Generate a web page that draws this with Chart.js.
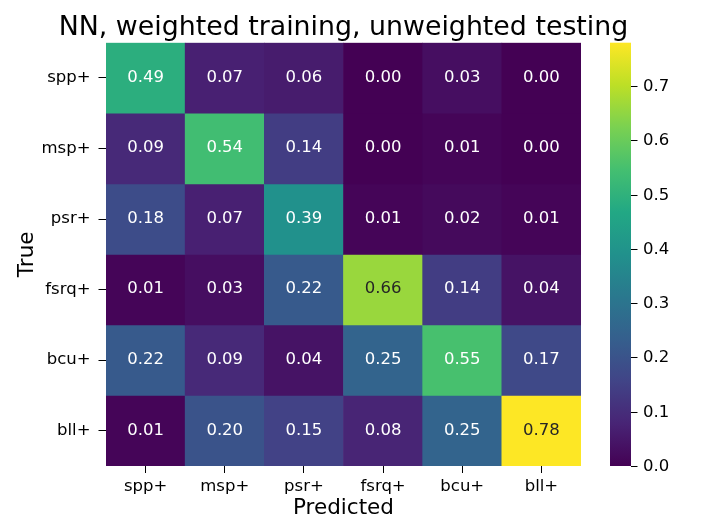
<!DOCTYPE html>
<html>
<head>
<meta charset="utf-8">
<script src="https://cdn.jsdelivr.net/npm/chart.js@4/dist/chart.umd.min.js"></script>
<style>
  body { margin: 0; background: #fff; }
</style>
</head>
<body>
<canvas id="heat" width="706" height="530"></canvas>
<script>
// labels for both axes
var predicted = ["spp+", "msp+", "psr+", "fsrq+", "bcu+", "bll+"];
var trueLabels = ["spp+", "msp+", "psr+", "fsrq+", "bcu+", "bll+"];

// one array per true class (rows, top to bottom)
var sppRow  = [0.49, 0.07, 0.06, 0.00, 0.03, 0.00];
var mspRow  = [0.09, 0.54, 0.14, 0.00, 0.01, 0.00];
var psrRow  = [0.18, 0.07, 0.39, 0.01, 0.02, 0.01];
var fsrqRow = [0.01, 0.03, 0.22, 0.66, 0.14, 0.04];
var bcuRow  = [0.22, 0.09, 0.04, 0.25, 0.55, 0.17];
var bllRow  = [0.01, 0.20, 0.15, 0.08, 0.25, 0.78];
var rows = [sppRow, mspRow, psrRow, fsrqRow, bcuRow, bllRow];

// colorbar
var vmin = 0;
var vmax = 0.78;
var cbTicks = [0.0, 0.1, 0.2, 0.3, 0.4, 0.5, 0.6, 0.7];

var TITLE = "NN, weighted training, unweighted testing";
var FONT = "'DejaVu Sans', sans-serif";

// viridis, 11 samples
var viridis = ["#440154", "#482475", "#414487", "#355f8d", "#2a788e", "#21918c",
               "#22a884", "#44bf70", "#7ad151", "#bddf26", "#fde725"];

function hexRgb(h) {
  return [parseInt(h.substr(1, 2), 16), parseInt(h.substr(3, 2), 16), parseInt(h.substr(5, 2), 16)];
}
function cmap(t) {
  t = Math.max(0, Math.min(1, t));
  var p = t * (viridis.length - 1);
  var i = Math.min(Math.floor(p), viridis.length - 2);
  var f = p - i;
  var a = hexRgb(viridis[i]), b = hexRgb(viridis[i + 1]);
  return [0, 1, 2].map(function (k) { return Math.round(a[k] + (b[k] - a[k]) * f); });
}
function colorOf(v) {
  var c = cmap((v - vmin) / (vmax - vmin));
  return "rgb(" + c[0] + "," + c[1] + "," + c[2] + ")";
}
// same rule seaborn uses to pick annotation color
function textColor(v) {
  var c = cmap((v - vmin) / (vmax - vmin)).map(function (x) {
    x = x / 255;
    return x <= 0.03928 ? x / 12.92 : Math.pow((x + 0.055) / 1.055, 2.4);
  });
  var lum = 0.2126 * c[0] + 0.7152 * c[1] + 0.0722 * c[2];
  return lum > 0.408 ? "#262626" : "#ffffff";
}

var datasets = rows.map(function (row, i) {
  return {
    label: trueLabels[i],
    data: predicted.map(function (p, j) { return { x: p, y: 1, v: row[j] }; }),
    backgroundColor: function (ctx) { return colorOf(ctx.raw.v); },
    borderWidth: 0,
    barPercentage: 1,
    categoryPercentage: 1
  };
});

// title + cell annotations
var cellText = {
  id: "cellText",
  afterDatasetsDraw: function (chart) {
    var ctx = chart.ctx;
    var a = chart.chartArea;
    ctx.save();
    ctx.fillStyle = "#000";
    ctx.font = "26.8px " + FONT;
    ctx.textAlign = "center";
    ctx.textBaseline = "alphabetic";
    ctx.fillText(TITLE, (a.left + a.right) / 2, 35);

    ctx.font = "16.5px " + FONT;
    ctx.textBaseline = "middle";
    chart.data.datasets.forEach(function (ds, i) {
      chart.getDatasetMeta(i).data.forEach(function (bar, j) {
        var v = ds.data[j].v;
        ctx.fillStyle = textColor(v);
        ctx.fillText(v.toFixed(2), bar.x, (bar.y + bar.base) / 2 - 0.5);
      });
    });
    ctx.restore();
  }
};

// colorbar drawn against the 'cb' scale
var colorbar = {
  id: "colorbar",
  afterDraw: function (chart) {
    var s = chart.scales.cb;
    var ctx = chart.ctx;
    var top = s.getPixelForValue(vmax), bot = s.getPixelForValue(vmin);
    var x0 = 610, x1 = 631;
    var g = ctx.createLinearGradient(0, bot, 0, top);
    viridis.forEach(function (c, k) { g.addColorStop(k / (viridis.length - 1), c); });
    ctx.save();
    ctx.fillStyle = g;
    ctx.fillRect(x0, top, x1 - x0, bot - top);
    ctx.strokeStyle = "#000";
    ctx.fillStyle = "#000";
    ctx.lineWidth = 1;
    ctx.font = "16.5px " + FONT;
    ctx.textAlign = "left";
    ctx.textBaseline = "middle";
    cbTicks.forEach(function (t) {
      var y = Math.round(s.getPixelForValue(t)) + 0.5;
      ctx.beginPath();
      ctx.moveTo(x1, y);
      ctx.lineTo(x1 + 6.5, y);
      ctx.stroke();
      ctx.fillText(t.toFixed(1), 643, y);
    });
    ctx.restore();
  }
};

function noPad(s) {
  s.paddingTop = 0; s.paddingBottom = 0; s.paddingLeft = 0; s.paddingRight = 0;
}

new Chart(document.getElementById("heat"), {
  type: "bar",
  data: { labels: predicted, datasets: datasets },
  options: {
    responsive: false,
    animation: false,
    layout: { padding: { top: 42.7, left: 0, right: 0, bottom: 0 } },
    plugins: {
      legend: { display: false },
      tooltip: { enabled: false },
      title: { display: false }
    },
    scales: {
      x: {
        stacked: true,
        border: { display: false },
        grid: { drawOnChartArea: false, drawTicks: true, tickLength: 7, offset: false, color: "#000" },
        ticks: { color: "#000", padding: 4, font: { family: FONT, size: 16.5 } },
        title: {
          display: true, text: "Predicted", color: "#000",
          font: { family: FONT, size: 21.5 }, padding: { top: 0, bottom: 8.6 }
        },
        afterFit: function (s) { s.height = 64; noPad(s); }
      },
      y: {
        stacked: true,
        reverse: true,
        min: 0,
        max: rows.length,
        border: { display: false },
        grid: { drawOnChartArea: false, drawTicks: true, tickLength: 7.5, color: "#000" },
        afterBuildTicks: function (s) {
          s.ticks = trueLabels.map(function (l, i) { return { value: i + 0.5 }; });
        },
        ticks: {
          color: "#000", padding: 8, font: { family: FONT, size: 16.5 },
          callback: function (v, i) { return trueLabels[i]; }
        },
        title: {
          display: true, text: "True", color: "#000",
          font: { family: FONT, size: 21.5 }, padding: { top: 14.6, bottom: 0 }
        },
        afterFit: function (s) { s.width = 106; noPad(s); }
      },
      cb: {
        type: "linear",
        position: "right",
        min: vmin,
        max: vmax,
        border: { display: false },
        grid: { display: false },
        ticks: { display: false },
        afterFit: function (s) { s.width = 125; noPad(s); }
      }
    }
  },
  plugins: [cellText, colorbar]
});
</script>
</body>
</html>
